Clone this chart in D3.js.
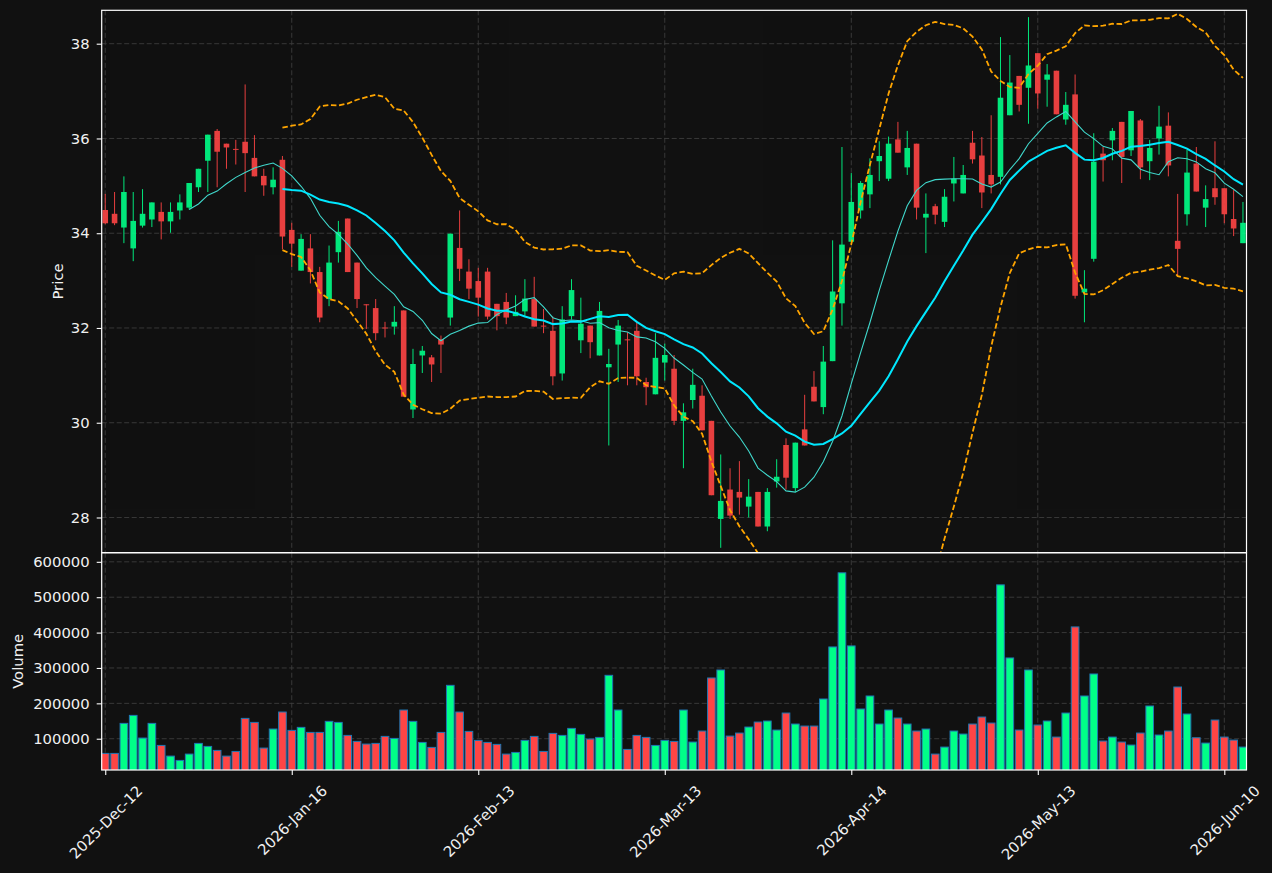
<!DOCTYPE html>
<html>
<head>
<meta charset="utf-8">
<script src="https://cdn.jsdelivr.net/npm/d3@7"></script>
<style>
  html, body { margin: 0; background: #111111; }
  text { font-family: "DejaVu Sans", sans-serif; }
</style>
</head>
<body>
<div id="chart"></div>
<script>
'use strict';

// OHLCV, one entry per trading day (index 0..122)
const opens = [34.49,34.41,34.12,33.68,34.16,34.29,34.45,34.25,34.48,34.54,34.97,35.53,36.16,35.89,35.78,35.93,35.59,35.21,34.97,35.55,
  34.07,33.21,33.68,33.18,32.61,33.60,34.31,33.38,32.50,32.42,32.01,32.03,32.37,30.28,31.42,31.38,31.76,32.22,33.69,33.19,
  32.99,33.19,32.51,32.55,32.25,32.35,32.61,32.05,31.94,31.04,32.25,31.74,32.05,31.42,31.17,31.65,31.76,31.94,30.86,30.60,
  31.27,31.14,30.04,30.48,30.57,30.04,27.97,28.59,28.54,28.23,28.54,27.81,28.76,29.53,28.62,29.86,30.76,30.33,31.30,32.52,
  33.82,34.48,34.82,35.52,35.15,35.98,35.39,35.89,34.33,34.57,34.24,35.05,34.84,35.91,35.64,35.23,35.19,36.49,37.32,37.07,
  37.80,37.24,37.43,36.40,36.93,32.75,33.46,35.68,35.96,36.35,35.75,36.38,35.52,36.00,36.27,33.84,34.40,35.47,34.54,34.95,
  34.95,34.30,33.79];
const highs = [34.83,34.87,35.20,34.87,34.93,34.65,34.65,34.65,34.82,35.06,35.36,36.08,36.20,35.89,35.97,37.14,36.07,35.36,35.39,35.63,
  34.22,33.98,33.98,33.29,33.74,34.26,34.31,33.38,32.50,32.61,32.13,32.46,32.37,31.56,31.62,31.43,31.84,33.99,34.48,33.45,
  33.27,33.27,32.51,32.74,32.69,33.03,33.08,32.40,32.24,32.46,33.03,32.64,32.05,32.55,31.56,32.17,31.91,32.13,30.95,31.89,
  31.67,31.43,30.41,31.14,30.79,30.04,29.33,29.04,29.19,28.81,28.54,28.62,29.23,29.67,29.58,30.59,31.09,31.62,33.85,35.82,
  35.27,35.10,35.58,35.94,36.04,36.35,36.16,35.89,34.84,34.62,34.93,35.61,35.44,36.16,36.03,36.49,38.14,37.76,37.32,38.56,
  37.80,37.57,37.43,36.98,37.35,33.22,36.11,35.82,36.22,36.35,36.58,36.41,35.97,36.69,36.55,34.83,35.76,35.82,35.01,35.94,
  34.95,34.91,34.66];
const lows = [34.19,34.17,33.79,33.41,34.12,34.13,33.87,34.01,34.29,34.50,34.87,34.87,34.97,35.36,35.45,34.87,35.20,34.79,34.82,33.66,
  33.29,33.21,32.94,32.12,32.46,33.38,33.18,32.42,31.98,31.74,31.80,31.86,30.55,30.10,31.05,30.86,31.05,32.05,32.99,32.61,
  32.24,32.18,31.95,32.08,32.25,32.24,32.03,31.89,30.79,30.89,32.18,31.47,31.36,31.42,29.52,30.86,30.79,30.79,30.37,30.60,
  30.89,29.95,29.04,30.30,29.84,28.47,27.36,27.97,28.06,28.00,27.81,27.71,28.63,28.59,28.54,29.52,30.45,30.18,31.30,32.05,
  33.82,34.31,34.53,35.10,35.10,35.70,35.23,34.29,33.58,34.19,34.13,34.67,34.84,35.47,34.53,34.84,35.03,36.49,36.57,36.31,
  36.63,36.67,36.51,36.29,32.62,32.12,33.40,35.09,35.54,35.06,35.63,35.14,35.12,35.66,35.20,33.10,34.16,34.88,34.13,34.60,
  34.21,33.94,33.79];
const closes = [34.21,34.21,34.87,34.26,34.41,34.65,34.25,34.45,34.65,35.06,35.36,36.08,35.72,35.81,35.76,35.69,35.20,35.01,35.13,33.93,
  33.78,33.88,33.18,32.22,33.38,34.03,33.18,32.61,32.48,31.89,32.00,32.13,30.55,31.24,31.52,31.23,31.65,33.99,33.25,32.83,
  32.64,32.24,32.25,32.22,32.34,32.62,32.03,32.03,30.98,32.18,32.80,32.09,31.70,32.36,31.24,32.05,31.74,30.98,30.75,31.37,
  31.43,30.04,30.22,30.80,29.84,28.47,28.35,28.04,28.42,28.44,27.81,28.54,28.86,28.84,29.58,29.52,30.45,31.29,32.77,33.76,
  34.66,35.06,35.23,35.63,35.89,35.70,35.80,34.54,34.41,34.39,34.77,35.15,35.23,35.56,34.86,35.03,36.86,37.18,36.71,37.54,
  36.95,37.35,36.51,36.71,32.68,32.83,35.51,35.54,36.16,35.61,36.58,35.39,35.80,36.25,35.43,33.67,35.28,34.88,34.72,34.76,
  34.40,34.10,34.22];
const volumes = [58500,58500,143400,166000,101900,143400,81100,50900,38700,56600,86800,78300,67000,50900,64100,157500,146200,73600,127400,175500,
  123600,132100,117900,117900,149100,146200,109400,92500,84900,86800,106600,100900,181100,149100,89600,75500,117900,250900,175500,120800,
  95300,89600,84000,56600,61300,95300,106600,64100,115100,109400,129200,112300,99100,103800,279200,181100,69800,109400,103800,81100,
  95300,92500,181100,90600,121700,271700,294300,107500,116000,133000,147200,150000,124500,172600,141500,135800,135800,212300,359400,568900,
  362300,184000,220800,141500,181100,158500,141500,121700,127400,56600,76400,121700,113200,141500,161300,144300,534900,328300,124500,294300,
  138700,150000,104700,172600,416000,220800,283000,93400,104700,90600,82100,116000,192500,110400,121700,246200,169800,102800,87700,152800,
  104700,96200,76400];

const tickIdx = [0, 20, 40, 60, 80, 100, 120];
const tickLabels = ['2025-Dec-12', '2026-Jan-16', '2026-Feb-13', '2026-Mar-13', '2026-Apr-14', '2026-May-13', '2026-Jun-10'];
const priceTicks = [28, 30, 32, 34, 36, 38];
const volumeTicks = [100000, 200000, 300000, 400000, 500000, 600000];

const W = 1272, H = 873;
const left = 101.7, right = 1246.5;
const pTop = 10.3, pBottom = 552.7, vBottom = 770;
const UP = '#00ff88', DOWN = '#ff4545';
const TXT = '#f0f0f0';

const n = closes.length;
const rows = closes.map((c, i) => ({ i, o: opens[i], h: highs[i], l: lows[i], c, v: volumes[i] }));

function rolling(arr, w, fn) {
  return arr.map((_, i) => i < w - 1 ? null : fn(arr.slice(i - w + 1, i + 1)));
}
const ma10 = rolling(closes, 10, d3.mean);
const ma20 = rolling(closes, 20, d3.mean);
const sd20 = rolling(closes, 20, d3.deviation);
const upper = ma20.map((m, i) => m == null ? null : m + 2 * sd20[i]);
const lower = ma20.map((m, i) => m == null ? null : m - 2 * sd20[i]);

const x = d3.scaleLinear().domain([-0.38, n - 1 + 0.38]).range([left, right]);
const step = x(1) - x(0);
const y = d3.scaleLinear().domain([27.257, 38.705]).range([pBottom, pTop]);
const yv = d3.scaleLinear().domain([0.3 * d3.min(volumes), 1.1 * d3.max(volumes)]).range([vBottom, pBottom]);

const svg = d3.select('#chart').append('svg')
    .attr('width', W)
    .attr('height', H)
    .style('background', '#111111');

const defs = svg.append('defs');
defs.append('clipPath').attr('id', 'clipP')
  .append('rect').attr('x', left).attr('y', pTop).attr('width', right - left).attr('height', pBottom - pTop);
defs.append('clipPath').attr('id', 'clipV')
  .append('rect').attr('x', left).attr('y', pBottom).attr('width', right - left).attr('height', vBottom - pBottom);

// grid
const grid = svg.append('g')
    .attr('stroke', '#3d3d3d')
    .attr('stroke-width', 0.9)
    .attr('stroke-dasharray', '5,2.5');
tickIdx.forEach(t => {
  grid.append('line').attr('x1', x(t)).attr('x2', x(t)).attr('y1', pTop).attr('y2', pBottom);
  grid.append('line').attr('x1', x(t)).attr('x2', x(t)).attr('y1', pBottom).attr('y2', vBottom);
});
priceTicks.forEach(p => grid.append('line').attr('x1', left).attr('x2', right).attr('y1', y(p)).attr('y2', y(p)));
volumeTicks.forEach(v => grid.append('line').attr('x1', left).attr('x2', right).attr('y1', yv(v)).attr('y2', yv(v)));

// candles
const candles = svg.append('g').attr('clip-path', 'url(#clipP)').attr('opacity', 0.9);
const bodyW = step * 0.6;
candles.selectAll('line.wick')
  .data(rows)
  .join('line')
    .attr('class', 'wick')
    .attr('x1', d => x(d.i)).attr('x2', d => x(d.i))
    .attr('y1', d => y(d.h)).attr('y2', d => y(d.l))
    .attr('stroke', d => d.c >= d.o ? UP : DOWN)
    .attr('stroke-width', 1);
candles.selectAll('rect.body')
  .data(rows)
  .join('rect')
    .attr('class', 'body')
    .attr('x', d => x(d.i) - bodyW / 2)
    .attr('width', bodyW)
    .attr('y', d => y(Math.max(d.o, d.c)))
    .attr('height', d => Math.max(1, Math.abs(y(d.o) - y(d.c))))
    .attr('fill', d => d.c >= d.o ? UP : DOWN);

// indicator lines
const lineGen = arr => d3.line()
    .defined(d => d != null)
    .x((d, i) => x(i))
    .y(d => y(d))(arr);
const lines = svg.append('g').attr('clip-path', 'url(#clipP)').attr('fill', 'none');
lines.append('path').attr('d', lineGen(upper))
    .attr('stroke', '#ffa500').attr('stroke-width', 1.8).attr('stroke-dasharray', '5.5,2.6');
lines.append('path').attr('d', lineGen(lower))
    .attr('stroke', '#ffa500').attr('stroke-width', 1.8).attr('stroke-dasharray', '5.5,2.6');
lines.append('path').attr('d', lineGen(ma10))
    .attr('stroke', '#40d8cc').attr('stroke-width', 1.1);
lines.append('path').attr('d', lineGen(ma20))
    .attr('stroke', '#00e8ff').attr('stroke-width', 2);

// volume bars
const barW = step * 0.82;
svg.append('g').attr('clip-path', 'url(#clipV)')
  .selectAll('rect')
  .data(rows)
  .join('rect')
    .attr('x', d => x(d.i) - barW / 2)
    .attr('width', barW)
    .attr('y', d => yv(d.v))
    .attr('height', d => vBottom + 2 - yv(d.v))
    .attr('fill', d => d.c >= d.o ? UP : DOWN)
    .attr('stroke', '#1f77b4')
    .attr('stroke-width', 1);

// frames
[[pTop, pBottom], [pBottom, vBottom]].forEach(([t, b]) => {
  svg.append('rect')
      .attr('x', left).attr('y', t).attr('width', right - left).attr('height', b - t)
      .attr('fill', 'none').attr('stroke', '#ffffff').attr('stroke-width', 1.2);
});

// axes
function styleAxis(g) {
  g.select('.domain').remove();
  g.selectAll('.tick line').attr('stroke', '#ffffff').attr('stroke-width', 1.1);
  g.selectAll('.tick text').attr('fill', TXT).style('font-size', '14.8px').style('font-family', '"DejaVu Sans", sans-serif');
}
svg.append('g')
    .attr('transform', `translate(${left}, 0)`)
    .call(d3.axisLeft(y).tickValues(priceTicks).tickFormat(d3.format('d')).tickSize(5).tickPadding(7))
    .call(styleAxis);
svg.append('g')
    .attr('transform', `translate(${left}, 0)`)
    .call(d3.axisLeft(yv).tickValues(volumeTicks).tickFormat(d3.format('d')).tickSize(5).tickPadding(7))
    .call(styleAxis);

const xAxis = svg.append('g')
    .attr('transform', `translate(0, ${vBottom})`)
    .call(d3.axisBottom(x).tickValues(tickIdx).tickFormat((d, i) => tickLabels[i]).tickSize(5).tickPadding(7))
    .call(styleAxis);
xAxis.selectAll('.tick text')
    .attr('y', 0).attr('dy', null)
    .attr('text-anchor', 'middle')
    .attr('dominant-baseline', 'central')
    .each(function() {
      const len = this.getComputedTextLength();
      const off = 12 + (len + 17) * 0.3536;
      d3.select(this).attr('transform', `translate(0, ${off}) rotate(-45)`);
    });

svg.append('text')
    .attr('transform', `translate(57, ${(pTop + pBottom) / 2}) rotate(-90)`)
    .attr('text-anchor', 'middle')
    .attr('dominant-baseline', 'central')
    .attr('fill', TXT)
    .style('font-size', '14.8px')
    .text('Price');
svg.append('text')
    .attr('transform', `translate(17, ${(pBottom + vBottom) / 2}) rotate(-90)`)
    .attr('text-anchor', 'middle')
    .attr('dominant-baseline', 'central')
    .attr('fill', TXT)
    .style('font-size', '14.8px')
    .text('Volume');
</script>
</body>
</html>
